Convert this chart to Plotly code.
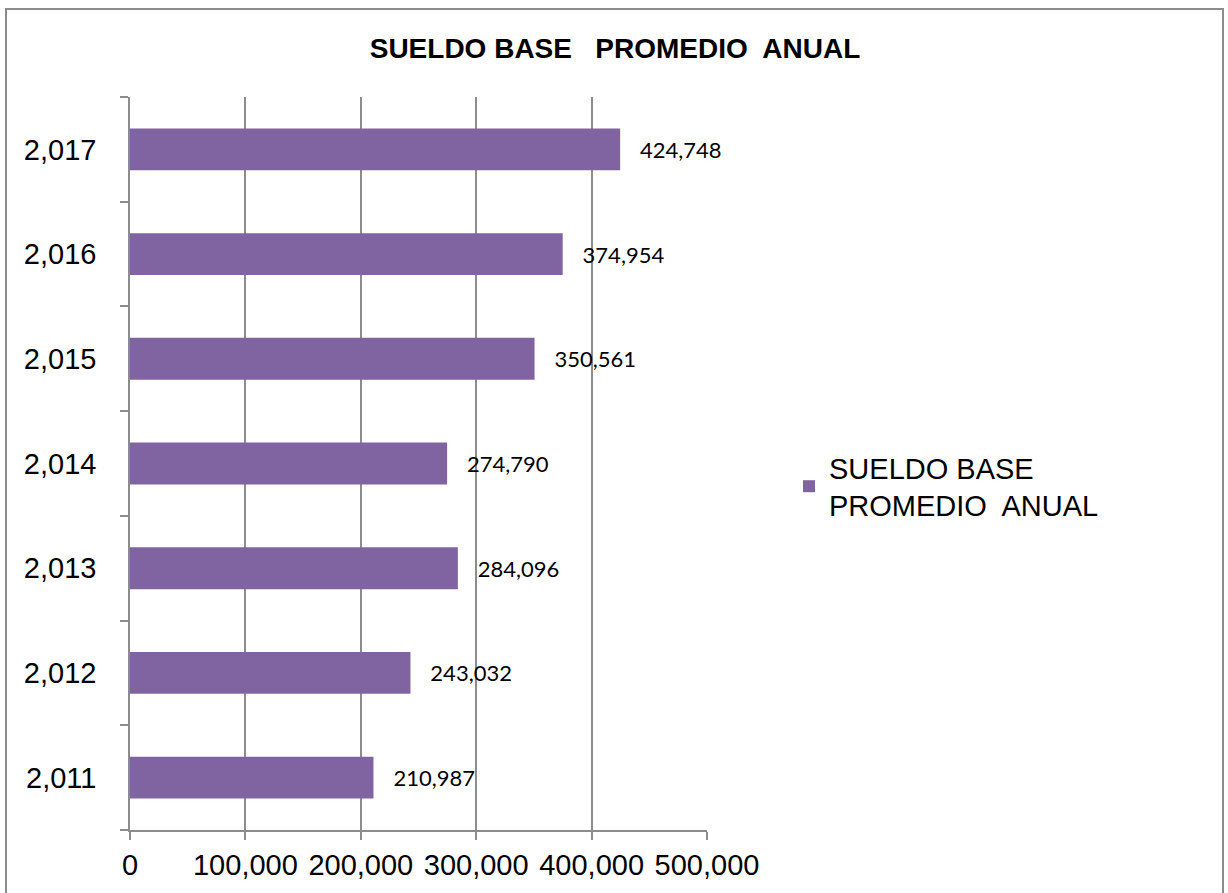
import plotly.graph_objects as go

years = ["2,011", "2,012", "2,013", "2,014", "2,015", "2,016", "2,017"]
sueldo = [210987, 243032, 284096, 274790, 350561, 374954, 424748]
x_ticks = [0, 100000, 200000, 300000, 400000, 500000]
x_tick_labels = ["0", "100,000", "200,000", "300,000", "400,000", "500,000"]
series_name = "SUELDO BASE<br>PROMEDIO  ANUAL"
title_text = "SUELDO BASE   PROMEDIO  ANUAL"

W, H = 1228, 893
L, R, T, B = 130, W - 707, 97, H - 830
pw, ph = W - L - R, H - T - B

def px_x(x):
    return (x - L) / pw

def px_y(y):
    return (H - B - y) / ph

fig = go.Figure()
fig.add_trace(go.Bar(
    y=years, x=sueldo, orientation="h", name=series_name,
    marker=dict(color="#8064A2", line=dict(width=0)),
    texttemplate="\u00a0\u00a0\u00a0%{x:,}", textposition="outside",
    textfont=dict(family="Lato, Open Sans, sans-serif", size=22, color="#000000"),
    cliponaxis=False, showlegend=True,
))

fig.update_layout(
    width=W, height=H,
    margin=dict(l=L, r=R, t=T, b=B, autoexpand=False),
    paper_bgcolor="white", plot_bgcolor="white",
    bargap=0.6,
    title=dict(text="<b>" + title_text + "</b>", x=615 / W, xref="container", xanchor="center",
               y=1 - 48 / H, yref="container", yanchor="middle",
               font=dict(family="Liberation Sans, Arial, sans-serif", size=28, color="#000000")),
    legend=dict(x=px_x(789), y=px_y(442), xanchor="left", yanchor="top",
                font=dict(family="Liberation Sans, Arial, sans-serif", size=29, color="#000000"),
                bgcolor="rgba(0,0,0,0)", itemwidth=30),
    xaxis=dict(range=[0, 500000], tickvals=x_ticks, ticktext=x_tick_labels,
               automargin=False,
               showgrid=True, gridcolor="#8c8c8c", gridwidth=1.5,
               showline=True, linecolor="#8c8c8c", linewidth=1.5,
               ticks="outside", ticklen=8, tickcolor="#8c8c8c", tickwidth=1.5,
               zeroline=False, ticklabelstandoff=0,
               tickfont=dict(family="Liberation Sans Narrow, Arial Narrow, Liberation Sans, sans-serif",
                             size=29, color="#000000")),
    yaxis=dict(type="category", categoryorder="array", categoryarray=years,
               automargin=False,
               showline=True, linecolor="#8c8c8c", linewidth=1.5,
               ticks="outside", tickson="boundaries", ticklen=8,
               tickcolor="#8c8c8c", tickwidth=1.5, showgrid=False,
               ticklabelstandoff=26,
               tickfont=dict(family="Liberation Sans, Arial, sans-serif", size=29, color="#000000")),
)

fig.add_shape(type="rect", xref="paper", yref="paper",
              x0=px_x(6), x1=px_x(1223), y0=px_y(H + 20), y1=px_y(9),
              line=dict(color="#8c8c8c", width=2), fillcolor="rgba(0,0,0,0)", layer="below")

fig.write_html("out.html")
